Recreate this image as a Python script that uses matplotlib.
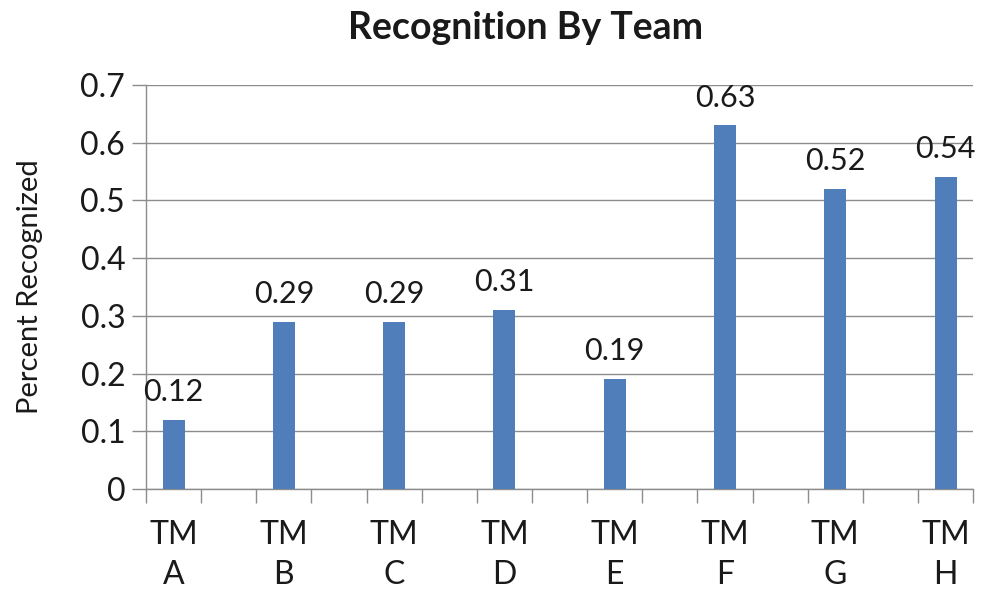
import matplotlib
matplotlib.use("Agg")
import matplotlib.pyplot as plt
import numpy as np

teams = ["TM\nA", "TM\nB", "TM\nC", "TM\nD", "TM\nE", "TM\nF", "TM\nG", "TM\nH"]
values = [0.12, 0.29, 0.29, 0.31, 0.19, 0.63, 0.52, 0.54]
yticks = [0, 0.1, 0.2, 0.3, 0.4, 0.5, 0.6, 0.7]
ytick_labels = ["0", "0.1", "0.2", "0.3", "0.4", "0.5", "0.6", "0.7"]

plt.rcParams['font.family'] = ['Lato', 'DejaVu Sans']

fig = plt.figure(figsize=(9.82, 5.92), dpi=100)
ax = fig.add_axes([0.1487, 0.174, 0.8423, 0.6824])

x = np.arange(len(teams)) * 2
bars = ax.bar(x, values, width=0.4, color="#4F7EBB", zorder=3)
for xi, v in zip(x, values):
    ax.text(xi, v + 0.024, f"{v:.2f}", ha="center", va="bottom", fontsize=22, color="#1a1a1a")

ax.set_xlim(-0.5, 2 * len(teams) - 1.5)
ax.set_ylim(0, 0.7)
ax.set_yticks(yticks)
ax.set_yticklabels(ytick_labels, fontsize=23, color="#1a1a1a")
ax.yaxis.grid(True, color="#8c8c8c", linewidth=1.0, zorder=0)
ax.set_axisbelow(True)

ax.set_xticks(np.arange(-0.5, 2 * len(teams) - 1.0, 1.0))
ax.set_xticklabels([])
ax.set_xticks(x, minor=True)
ax.set_xticklabels(teams, minor=True, fontsize=23, linespacing=1.42, color="#1a1a1a")
ax.tick_params(axis="x", which="major", length=10, color="#8c8c8c", width=1)
ax.tick_params(axis="x", which="minor", length=0, pad=22)
ax.tick_params(axis="y", length=10, color="#8c8c8c", width=1, pad=5)

for s in ["top", "right"]:
    ax.spines[s].set_visible(False)
for s in ["left", "bottom"]:
    ax.spines[s].set_color("#8c8c8c")
    ax.spines[s].set_linewidth(1)

ax.set_ylabel("Percent Recognized", fontsize=21, labelpad=27, color="#1a1a1a")
fig.text(0.535, 0.952, "Recognition By Team", ha="center", va="center", fontsize=27, fontweight="bold", color="#1a1a1a")

fig.savefig("out.png", dpi=100, facecolor="white")
